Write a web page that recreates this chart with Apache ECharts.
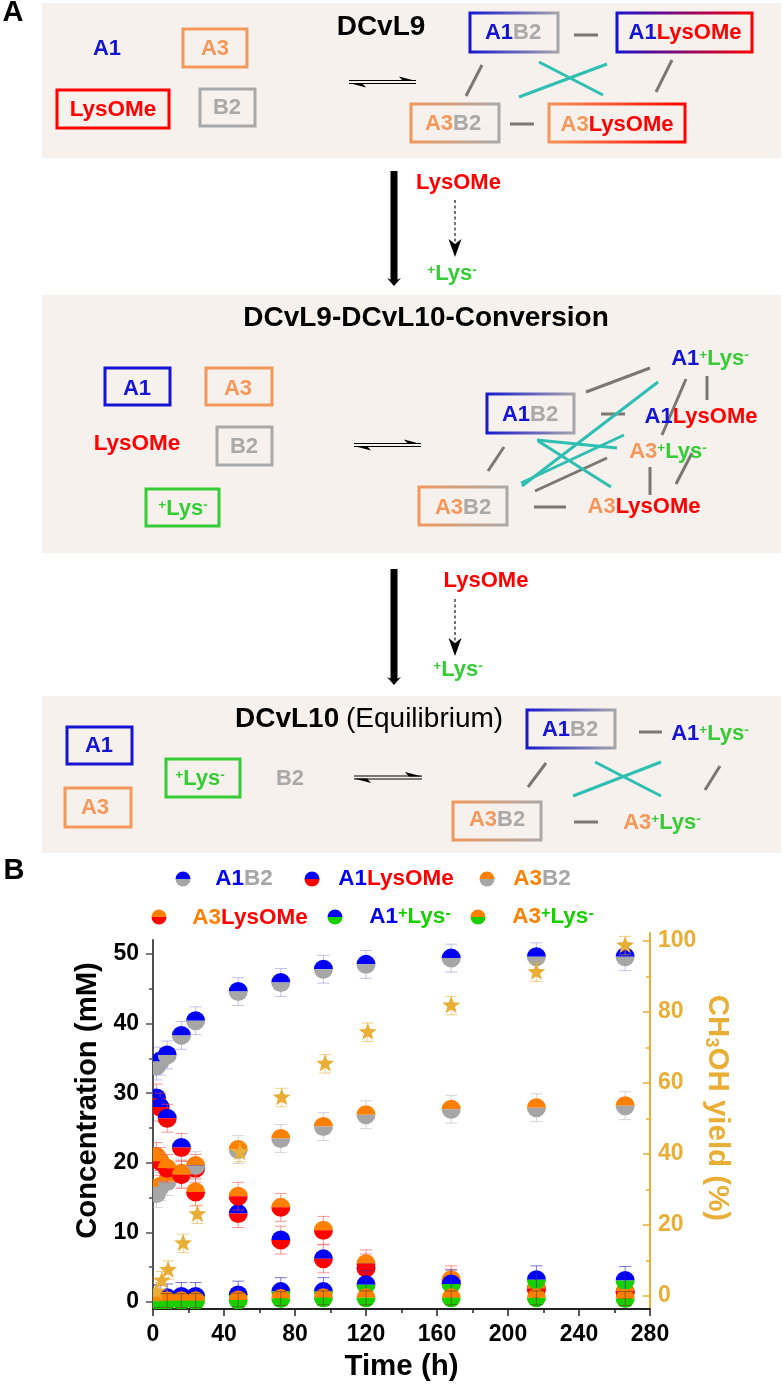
<!DOCTYPE html>
<html><head><meta charset="utf-8">
<style>html,body{margin:0;padding:0;background:#fff}#c{width:783px;height:1387px}</style>
<script src="https://cdn.jsdelivr.net/npm/echarts@6/dist/echarts.min.js"></script>
</head><body><div id="c"></div>
<script>
// ---------- data ----------
const hours = [2,4,8,16,24,48,72,96,120,168,216,266];
const A1B2 = [33.9,34.6,35.5,38.3,40.4,44.6,45.9,47.8,48.5,49.4,49.6,49.6];
const A1LysOMe = [29.3,28,26.4,22.2,19.2,12.7,8.9,6.2,4.9,2.7,1.9,1.4];
const A3B2 = [15.6,16.6,17.3,18.5,19.6,21.9,23.5,25.2,26.9,27.7,27.9,28.2];
const A3LysOMe = [20.9,20.2,19.2,18.3,15.8,15.2,13.6,10.3,5.5,3.2,1.9,1.5];
const A1Lys = [0.4,0.5,0.6,0.8,0.8,1.0,1.5,1.5,2.5,2.6,3.2,3.1];
const A3Lys = [0.2,0.2,0.2,0.2,0.2,0.3,0.5,0.6,0.6,0.6,0.6,0.5];
const starHours = [2,5,8.5,17,25,49,72.5,97,121,168,216,266];
const yieldPct = [1.2,4.3,7.3,14.8,23,40.4,55.9,65.4,74.3,81.8,91.2,98.7];
const errA1B2 = 2, errA1LysOMe = 2, errA3B2 = 2, errA3LysOMe = 2, errA1Lys = 2, errA3Lys = 1, errYield = 2.6;
const concTicks = [0,10,20,30,40,50];
const concMinor = [5,15,25,35,45];
const yieldTicks = [0,20,40,60,80,100];
const yieldMinor = [10,30,50,70,90];

// ---------- palette ----------
const BLUE='#0000F5',GREY='#A6A6A6',RED='#FF0000',ORANGE='#FF8000',GREEN='#19CF00',GOLD='#E8AE35';
const DBLUE='#1414D2',DORANGE='#F4975A',DGREY='#A9A9A9',DGREEN='#35CC35',TEAL='#2EBFB2',SEG='#7B7773',PANEL='#F6F1ED';
const FONT='"Liberation Sans",Arial,sans-serif';

// ---------- scatter series description ----------
const discSeries = [
 {name:'A1B2',vals:A1B2,err:errA1B2,top:BLUE,bot:GREY,errC:'#9A9AD8',over:false},
 {name:'A1LysOMe',vals:A1LysOMe,err:errA1LysOMe,top:BLUE,bot:RED,errC:'#F05050',over:false},
 {name:'A3B2',vals:A3B2,err:errA3B2,top:ORANGE,bot:GREY,errC:'#B8B8B8',over:false},
 {name:'A3LysOMe',vals:A3LysOMe,err:errA3LysOMe,top:ORANGE,bot:RED,errC:'#F05050',over:false},
 {name:'A1+Lys-',vals:A1Lys,err:errA1Lys,top:BLUE,bot:GREEN,errC:'#3030C0',over:true},
 {name:'A3+Lys-',vals:A3Lys,err:errA3Lys,top:ORANGE,bot:GREEN,errC:'#604020',over:true}
];
const R=9.5, CAP=6;
function errEls(api,x,y,e,col,op){
  const a=api.coord([x,y+e]),b=api.coord([x,y-e]);
  const st={stroke:col,lineWidth:1,opacity:op,fill:null};
  return [
   {type:'line',shape:{x1:a[0],y1:a[1],x2:b[0],y2:b[1]},style:st},
   {type:'line',shape:{x1:a[0]-CAP,y1:a[1],x2:a[0]+CAP,y2:a[1]},style:st},
   {type:'line',shape:{x1:b[0]-CAP,y1:b[1],x2:b[0]+CAP,y2:b[1]},style:st}
  ];
}
function discItem(s){
  return function(p,api){
    const x=api.value(0),y=api.value(1),c=api.coord([x,y]);
    const half=(a0,a1,col)=>({type:'sector',shape:{cx:c[0],cy:c[1],r0:0,r:R,startAngle:a0,endAngle:a1,clockwise:true},style:{fill:col}});
    const discs=[half(Math.PI,2*Math.PI,s.top),half(0,Math.PI,s.bot)];
    const errs=errEls(api,x,y,s.err,s.errC,s.over?0.65:0.6);
    return {type:'group',children:s.over?discs.concat(errs):errs.concat(discs)};
  };
}
function starItem(p,api){
  const x=api.value(0),y=api.value(1),c=api.coord([x,y]);
  const pts=[];
  for(let i=0;i<10;i++){
    const r=i%2?4:9.4,a=-Math.PI/2+i*Math.PI/5;
    pts.push([c[0]+r*Math.cos(a),c[1]+r*Math.sin(a)]);
  }
  return {type:'group',children:errEls(api,x,y,errYield,GOLD,0.6).concat([
    {type:'polygon',shape:{points:pts},style:{fill:GOLD}}])};
}
const series = discSeries.map((s,i)=>({
  type:'custom',name:s.name,coordinateSystem:'cartesian2d',xAxisIndex:0,yAxisIndex:0,clip:true,z:3+i,
  renderItem:discItem(s),data:hours.map((h,k)=>[h,s.vals[k]])
}));
series.push({type:'custom',name:'CH3OH yield',coordinateSystem:'cartesian2d',xAxisIndex:1,yAxisIndex:1,clip:true,z:12,
  renderItem:starItem,data:starHours.map((h,k)=>[h,yieldPct[k]])});

// ---------- schematic helpers ----------
const RICH=(size,supK,lift)=>{
  const b=(c,s)=>({fill:c,fontSize:s||size,fontWeight:'bold',fontFamily:FONT});
  const up=(c)=>Object.assign(b(c,size*supK),{verticalAlign:'top',padding:[0,0,Math.round(size*lift),0]});
  return {b:b(DBLUE),g:b(DGREY),r:b(RED),o:b(DORANGE),n:b(DGREEN),k:b('#000'),
          B:b(BLUE),G:b(GREY),O:b(ORANGE),N:b(GREEN),
          np:up(DGREEN),Np:up(GREEN)};
};
const T=(cx,cy,text,size,supK,lift)=>({type:'text',x:cx,y:cy,z:30,style:{text,rich:RICH(size,supK||0.62,lift===undefined?0.12:lift),align:'center',verticalAlign:'middle',font:'bold '+size+'px '+FONT,fill:'#000'}});
const box=(x0,y0,x1,y1,c0,c1)=>({type:'rect',z:20,shape:{x:x0,y:y0,width:x1-x0,height:y1-y0},style:{fill:null,lineWidth:3,
  stroke:c1?new echarts.graphic.LinearGradient(0,0,1,0,[{offset:0,color:c0},{offset:1,color:c1}]):c0}});
const seg=(x1,y1,x2,y2,c)=>({type:'line',z:21,shape:{x1,y1,x2,y2},style:{stroke:c,lineWidth:3}});
const panel=(y0,y1)=>({type:'rect',z:1,shape:{x:42,y:y0,width:739,height:y1-y0},style:{fill:PANEL}});
const lineEl=(x1,y1,x2,y2,w,dash,c)=>({type:'line',z:22,shape:{x1,y1,x2,y2},style:{stroke:c||'#000',lineWidth:w,lineDash:dash||null}});
const poly=(points)=>({type:'polygon',z:22,shape:{points},style:{fill:'#000'}});
function equil(x0,x1,y){return [
  lineEl(x0,y-1.5,x1,y-1.5,1),lineEl(x0,y+1.5,x1,y+1.5,1),
  poly([[x1,y-1],[x1-17,y-5.5],[x1-13,y-1]]),poly([[x0,y+1],[x0+17,y+5.5],[x0+13,y+1]])];}
function bigArrow(x,y0,y1){return [lineEl(x,y0,x,y1-5,7),poly([[x-7,y1-8],[x,y1-5],[x+7,y1-8],[x,y1]])];}
function dotArrow(x,y0,y1){return [lineEl(x,y0,x,y1-14,1.5,[3,2.5],'#444'),poly([[x-6.5,y1-18],[x,y1-13],[x+6.5,y1-18],[x,y1]])];}

const A1B2t='{b|A1}{g|B2}',A3B2t='{o|A3}{g|B2}',A1Lt='{b|A1}{r|LysOMe}',A3Lt='{o|A3}{r|LysOMe}';
const A1Kt='{b|A1}{np|+}{n|Lys}{np|-}',A3Kt='{o|A3}{np|+}{n|Lys}{np|-}',Kt='{np|+}{n|Lys}{np|-}';

const panels=[panel(3,158),panel(295,553),panel(696,853)];
const boxes=[
 box(183,29,247,67,DORANGE),box(57,90,169,128,RED),box(200,89,255,126,DGREY),
 box(470,13,558,52,DBLUE,DGREY),box(617,13,752,52,DBLUE,RED),box(411,104,499,142,DORANGE,DGREY),box(549,104,685,142,DORANGE,RED),
 box(105,368,170,405,DBLUE),box(206,368,272,405,DORANGE),box(217,427,272,465,DGREY),box(146,489,219,526,DGREEN),
 box(487,394,574,433,DBLUE,DGREY),box(419,487,507,525,DORANGE,DGREY),
 box(67,727,132,764,DBLUE),box(65,788,131,827,DORANGE),box(166,759,240,797,DGREEN),
 box(527,710,615,748,DBLUE,DGREY),box(453,802,541,840,DORANGE,DGREY)
];
const greySegs=[
 [574,35,598,35],[482,65,466,96],[672,60,656,92],[510,124,534,124],
 [586,392,650,368],[601,414,625,414],[686,379,662,435],[707,376,707,400],[504,447,488,471],[607,458,535,491],[534,507,566,507],[650,467,650,495],[692,453,676,484],
 [639,732,662,732],[546,763,528,787],[720,766,705,790],[574,822,598,822]
].map(a=>seg(a[0],a[1],a[2],a[3],SEG));
const tealSegs=[
 [539,62,603,95],[607,64,519,97],
 [658,382,522,486],[624,435,521,483],[537,440,617,448],[538,441,611,487],
 [595,762,661,796],[661,762,573,796]
].map(a=>seg(a[0],a[1],a[2],a[3],TEAL));
const texts=[
 T(13,13,'{k|A}',29),T(14,871,'{k|B}',29),
 T(381,27,'{k|DCvL9}',28),
 T(107,49,'{b|A1}',22),T(215,49,'{o|A3}',22),T(113,110,'{r|LysOMe}',22.5),T(227,108,'{g|B2}',22),
 T(513,33,A1B2t,22),T(685,33,A1Lt,22),T(453,124,A3B2t,22),T(617,125,A3Lt,22),
 T(458.5,183,'{r|LysOMe}',22),T(452,274,Kt,22),
 T(426,318,'{k|DCvL9-DCvL10-Conversion}',28),
 T(137,389,'{b|A1}',22),T(238,389,'{o|A3}',22),T(137,444,'{r|LysOMe}',22.5),T(244,447,'{g|B2}',22),T(183,509,Kt,22),
 T(530,415,A1B2t,22),T(463,508,A3B2t,22),T(710,359,A1Kt,22),T(701,417,A1Lt,22),T(668,452,A3Kt,22),T(644,507,A3Lt,22),
 T(486,581,'{r|LysOMe}',22),T(458,670,Kt,22),
 {type:'text',x:235,y:719,z:30,style:{text:'DCvL10',font:'bold 28px '+FONT,fill:'#000',align:'left',verticalAlign:'middle'}},
 {type:'text',x:346,y:719,z:30,style:{text:'(Equilibrium)',font:'28px '+FONT,fill:'#000',align:'left',verticalAlign:'middle'}},
 T(99,746,'{b|A1}',22),T(95,808,'{o|A3}',22),T(200,779,Kt,22),T(290,779,'{g|B2}',22),
 T(570,730,A1B2t,22),T(497,820,A3B2t,22),T(710,734,A1Kt,22),T(662,823,A3Kt,22)
];
// legend
const legendRows=[
 {t:'{B|A1}{G|B2}',mx:183,my:879,x:244,y:879,top:BLUE,bot:GREY},
 {t:'{B|A1}{r|LysOMe}',mx:312,my:879,x:396,y:879,top:BLUE,bot:RED},
 {t:'{O|A3}{G|B2}',mx:487,my:879,x:542,y:879,top:ORANGE,bot:GREY},
 {t:'{O|A3}{r|LysOMe}',mx:159,my:917,x:250,y:918,top:ORANGE,bot:RED},
 {t:'{B|A1}{Np|+}{N|Lys}{Np|-}',mx:335,my:917,x:410,y:917,top:BLUE,bot:GREEN},
 {t:'{O|A3}{Np|+}{N|Lys}{Np|-}',mx:478,my:917,x:553,y:917,top:ORANGE,bot:GREEN}
];
const legendEls=[];
legendRows.forEach(l=>{
  legendEls.push(T(l.x,l.y,l.t,22.5,0.72,0.3));
  const s=(a0,a1,c)=>({type:'sector',z:30,shape:{cx:l.mx,cy:l.my,r0:0,r:7.5,startAngle:a0,endAngle:a1,clockwise:true},style:{fill:c}});
  legendEls.push(s(Math.PI,2*Math.PI,l.top),s(0,Math.PI,l.bot));
});
const graphic=[].concat(panels,boxes,greySegs,tealSegs,texts,legendEls,
  equil(349,416,82),equil(354,421,445),equil(354,422,777.5),
  bigArrow(394,171,286),bigArrow(394,569,685),dotArrow(455,200,257),dotArrow(455,599,656));

const AX='#505050';
const chart=echarts.init(document.getElementById('c'),null,{renderer:'canvas',width:783,height:1387});
const hiddenX=(g)=>({gridIndex:g,type:'value',min:0,max:280,show:false,splitLine:{show:false}});
chart.setOption({
  animation:false,backgroundColor:'#fff',
  textStyle:{fontFamily:FONT},
  grid:[{left:153,right:133,top:940,bottom:78},{left:153,right:133,top:933,bottom:78},
        {left:153,right:133,top:940,bottom:78},{left:153,right:133,top:933,bottom:78}],
  xAxis:[
   {gridIndex:0,type:'value',min:0,max:280,interval:40,position:'bottom',
    name:'Time (h)',nameLocation:'middle',nameGap:43,nameTextStyle:{fontSize:29.5,fontWeight:'bold',color:'#000',fontFamily:FONT},
    axisLine:{onZero:false,lineStyle:{color:'#222',width:2}},
    axisTick:{inside:false,length:7,lineStyle:{color:'#222',width:1.5}},
    minorTick:{show:true,splitNumber:2,length:4,lineStyle:{color:'#222',width:1.5}},minorSplitLine:{show:false},
    axisLabel:{fontSize:23,fontWeight:'bold',color:'#000',margin:14,fontFamily:FONT,showMinLabel:true,showMaxLabel:true},
    splitLine:{show:false}},
   hiddenX(1),hiddenX(2),hiddenX(3)
  ],
  yAxis:[
   {gridIndex:0,type:'value',min:-1,max:52,position:'left',
    name:'Concentration (mM)',nameLocation:'middle',nameGap:50,
    nameTextStyle:{fontSize:29.3,fontWeight:'bold',color:'#000',fontFamily:FONT,padding:[0,0,0,48]},
    axisLine:{onZero:false,show:true,lineStyle:{color:AX,width:2}},
    axisTick:{show:true,length:7,customValues:concTicks,lineStyle:{color:AX,width:1.5}},
    axisLabel:{customValues:concTicks,fontSize:23,fontWeight:'bold',color:'#000',margin:14,fontFamily:FONT},
    splitLine:{show:false}},
   {gridIndex:1,type:'value',min:-3.66,max:102.25,position:'right',
    name:'{a|CH}{s|3}{a|OH yield (%)}',nameLocation:'middle',nameRotate:-90,nameGap:52,nameMoveOverlap:false,
    nameTextStyle:{fontSize:29.5,fontWeight:'bold',color:GOLD,fontFamily:FONT,padding:[0,26,0,0],
      rich:{a:{fontSize:29.5,fontWeight:'bold',color:GOLD,fontFamily:FONT},s:{fontSize:18,fontWeight:'bold',color:GOLD,fontFamily:FONT,verticalAlign:'bottom'}}},
    axisLine:{onZero:false,show:true,lineStyle:{color:GOLD,width:2}},
    axisTick:{show:true,inside:true,length:7,customValues:yieldTicks,lineStyle:{color:GOLD,width:1.5}},
    axisLabel:{customValues:yieldTicks,fontSize:23,fontWeight:'bold',color:GOLD,margin:8,fontFamily:FONT},
    splitLine:{show:false}},
   {gridIndex:2,type:'value',min:-1,max:52,position:'left',
    axisLine:{show:false,onZero:false},axisLabel:{show:false},splitLine:{show:false},
    axisTick:{show:true,length:4,customValues:concMinor,lineStyle:{color:AX,width:1.5}}},
   {gridIndex:3,type:'value',min:-3.66,max:102.25,position:'right',
    axisLine:{show:false,onZero:false},axisLabel:{show:false},splitLine:{show:false},
    axisTick:{show:true,inside:true,length:4,customValues:yieldMinor,lineStyle:{color:GOLD,width:1.5}}}
  ],
  series,graphic
});
</script></body></html>
